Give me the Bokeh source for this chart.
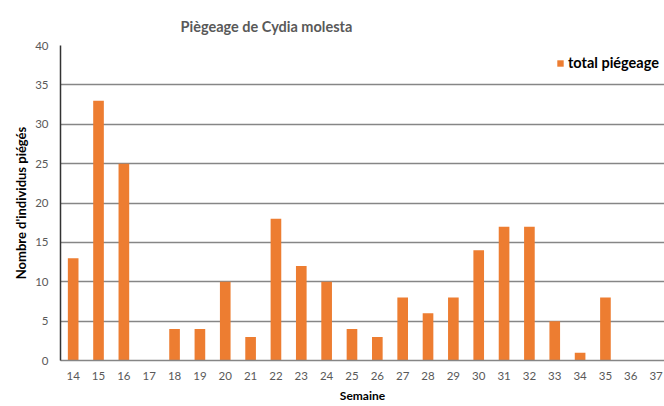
from bokeh.plotting import figure
from bokeh.models import Range1d, FixedTicker, Legend, LegendItem, ColumnDataSource, BoxAnnotation
from bokeh.embed import file_html
from bokeh.resources import INLINE

weeks = list(range(14, 38))
counts = [13, 33, 25, 0, 4, 4, 10, 3, 18, 12, 10, 4, 3, 8, 6, 8, 14, 17, 17, 5, 1, 8, 0, 0]
y_ticks = [0, 5, 10, 15, 20, 25, 30, 35, 40]
title_text = "Piègeage de Cydia molesta"
series_name = "total piégeage"
x_label = "Semaine"
y_label = "Nombre d'individus piégés"

FONT = "Lato"
BAR = "#ED7D31"
GRID = "#868686"

src = ColumnDataSource(dict(week=weeks, count=counts))

p = figure(width=664, height=406, output_backend="svg", toolbar_location=None,
           x_range=Range1d(13.5, 37.33), y_range=Range1d(0, 40),
           min_border_left=60, min_border_right=0, min_border_top=45, min_border_bottom=46,
           title=title_text)

p.title.text_font = FONT
p.title.text_font_size = "14.5px"
p.title.text_font_style = "bold"
p.title.text_color = "#595959"
p.title.align = "left"
p.title.offset = 120
p.title.standoff = 21

r = p.vbar(x="week", top="count", width=0.42, source=src, fill_color=BAR, line_color=None)

p.xgrid.visible = False
p.ygrid.ticker = FixedTicker(ticks=y_ticks)
p.ygrid.grid_line_color = GRID
p.ygrid.grid_line_width = 1.3

p.outline_line_color = None
p.background_fill_color = "white"
p.border_fill_color = "white"

p.xaxis.ticker = FixedTicker(ticks=weeks)
p.yaxis.ticker = FixedTicker(ticks=y_ticks)
for ax in (p.xaxis[0], p.yaxis[0]):
    ax.major_tick_line_color = None
    ax.minor_tick_line_color = None
    ax.major_tick_out = 0
    ax.major_tick_in = 0
    ax.minor_tick_out = 0
    ax.minor_tick_in = 0
    ax.major_label_text_font = FONT
    ax.major_label_text_font_size = "11.5px"
    ax.major_label_text_color = "#595959"
    ax.axis_label_text_font = FONT
    ax.axis_label_text_font_style = "bold"
    ax.axis_label_text_color = "#000000"

p.xaxis.axis_label = x_label
p.yaxis.axis_label = y_label
p.xaxis.axis_label_text_font_size = "12px"
p.yaxis.axis_label_text_font_size = "13px"
p.xaxis.major_label_standoff = 11
p.xaxis.axis_label_standoff = 5
p.yaxis.major_label_standoff = 12
p.yaxis.axis_label_standoff = 3
p.xaxis.axis_line_color = GRID
p.xaxis.axis_line_width = 1.3
p.yaxis.axis_line_color = "#333333"
p.yaxis.axis_line_width = 1.5

legend = Legend(items=[LegendItem(label=series_name, renderers=[r])],
                location=(496, 289), margin=0, padding=2,
                glyph_width=8, glyph_height=8, label_standoff=4,
                label_text_font=FONT, label_text_font_size="14.5px",
                label_text_font_style="bold", label_text_color="#000000",
                border_line_color=None, background_fill_alpha=0)
p.add_layout(legend)

chart_border = BoxAnnotation(left=3.5, right=720, top=3.5, bottom=460,
                             left_units="canvas", right_units="canvas",
                             top_units="canvas", bottom_units="canvas",
                             fill_alpha=0, line_color="#d9d9d9", line_width=1,
                             level="overlay")
p.add_layout(chart_border)

open("out.html", "w").write(file_html(p, INLINE))
